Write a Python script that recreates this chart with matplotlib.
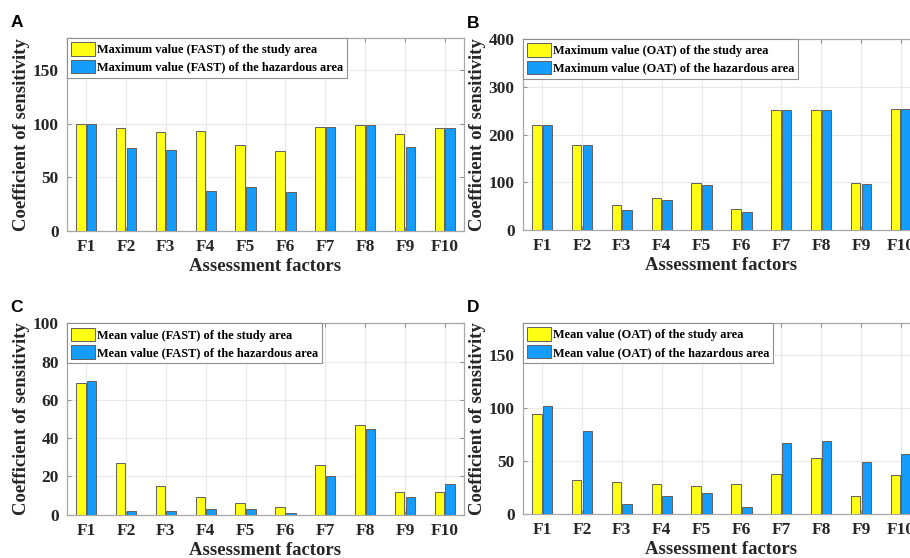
import numpy as np
import matplotlib
matplotlib.use("Agg")
import matplotlib.pyplot as plt

# sensitivity coefficients per assessment factor
factors = ['F1', 'F2', 'F3', 'F4', 'F5', 'F6', 'F7', 'F8', 'F9', 'F10']

max_fast_study = [100, 96, 92, 93, 80, 74, 97, 99, 90, 96]
max_fast_hazard = [100, 77, 75, 37, 41, 36, 97, 99, 78, 96]

max_oat_study = [219, 177, 52, 66, 98, 43, 251, 251, 99, 253]
max_oat_hazard = [219, 177, 42, 63, 94, 37, 251, 251, 96, 253]

mean_fast_study = [69, 27, 15, 9, 6, 4, 26, 47, 12, 12]
mean_fast_hazard = [70, 2, 2, 3, 3, 1, 20, 45, 9, 16]

mean_oat_study = [94, 32, 30, 28, 26, 28, 38, 53, 17, 37]
mean_oat_hazard = [102, 78, 9, 17, 20, 7, 67, 69, 49, 57]

yellow = '#ffff14'
blue = '#169cf9'
serif = 'Liberation Serif'

plt.rcParams['font.family'] = serif
plt.rcParams['font.weight'] = 'bold'
plt.rcParams['axes.labelweight'] = 'bold'

fig = plt.figure(figsize=(9.1, 5.58), dpi=100)

panels = [
    ('A', [0.0736, 0.5866, 0.4363, 0.3453], max_fast_study, max_fast_hazard,
     'Maximum value (FAST) of the study area', 'Maximum value (FAST) of the hazardous area',
     (0, 180), [0, 50, 100, 150]),
    ('B', [0.5747, 0.5878, 0.4363, 0.3423], max_oat_study, max_oat_hazard,
     'Maximum value (OAT) of the study area', 'Maximum value (OAT) of the hazardous area',
     (0, 400), [0, 100, 200, 300, 400]),
    ('C', [0.0736, 0.0776, 0.4363, 0.3430], mean_fast_study, mean_fast_hazard,
     'Mean value (FAST) of the study area', 'Mean value (FAST) of the hazardous area',
     (0, 100), [0, 20, 40, 60, 80, 100]),
    ('D', [0.5747, 0.0788, 0.4363, 0.3423], mean_oat_study, mean_oat_hazard,
     'Mean value (OAT) of the study area', 'Mean value (OAT) of the hazardous area',
     (0, 180), [0, 50, 100, 150]),
]

x = np.arange(1, len(factors) + 1)
w = 0.24

for letter, rect, study, hazard, lab1, lab2, ylim, yticks in panels:
    ax = fig.add_axes(rect)
    ax.bar(x - 0.135, study, w, color=yellow, edgecolor='#606060', linewidth=0.7,
           label=lab1, zorder=3)
    ax.bar(x + 0.135, hazard, w, color=blue, edgecolor='#606060', linewidth=0.7,
           label=lab2, zorder=3)

    ax.set_xlim(0.52, 10.48)
    ax.set_ylim(*ylim)
    ax.set_xticks(x)
    ax.set_xticklabels(factors)
    ax.set_yticks(yticks)
    ax.grid(True, color='#e8e8e8', linewidth=0.8, zorder=0)
    ax.tick_params(direction='in', length=3, color='#909090', top=True, right=True,
                   labelsize=12.5, labelcolor='#262626', pad=6)
    for s in ax.spines.values():
        s.set_color('#a8a8a8')
        s.set_linewidth(0.9)

    ax.set_xlabel('Assessment factors', fontsize=13.5, color='#262626', labelpad=2)
    ax.set_ylabel('Coefficient of sensitivity', fontsize=13.5, color='#262626', labelpad=2)

    leg = ax.legend(loc='upper left', borderaxespad=0, fancybox=False, framealpha=1,
                    edgecolor='#909090', prop={'family': serif, 'weight': 'bold', 'size': 8.9},
                    handlelength=1.9, handleheight=1.3, handletextpad=0.15,
                    labelspacing=0.3, borderpad=0.35)
    leg.get_frame().set_linewidth(0.8)

    fig.text(rect[0] - 0.062, rect[1] + rect[3] + 0.028, letter, fontsize=12.5,
             fontweight='bold', family='Liberation Sans', va='center', ha='left')

fig.savefig('out.png', dpi=100)
